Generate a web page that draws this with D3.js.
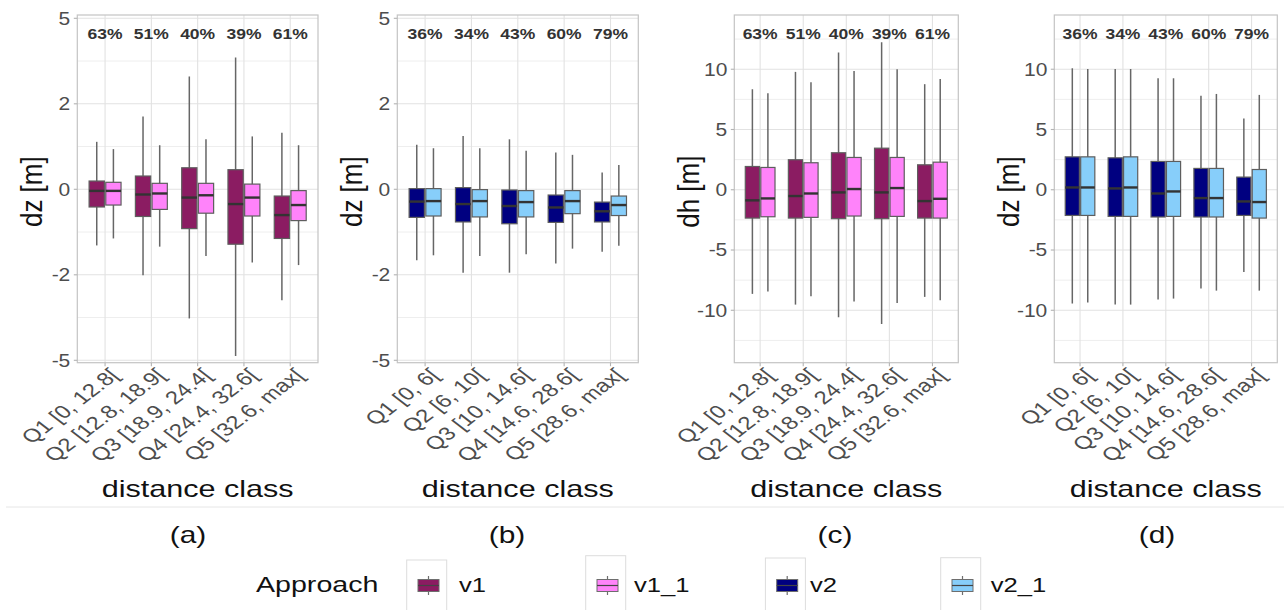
<!DOCTYPE html>
<html>
<head>
<meta charset="utf-8">
<script src="https://cdnjs.cloudflare.com/ajax/libs/d3/7.8.5/d3.min.js"></script>
<style>
  body { margin: 0; background: #fff; }
  text { font-family: "Liberation Sans", Arial, sans-serif; }
</style>
</head>
<body>
<svg id="chart" width="1284" height="610"></svg>
<script>
// ===== Data =====
// five-number stats per box: [whisker low, q1, median, q3, whisker high]
const catsA = ["Q1 [0, 12.8[", "Q2 [12.8, 18.9[", "Q3 [18.9, 24.4[", "Q4 [24.4, 32.6[", "Q5 [32.6, max["];
const catsB = ["Q1 [0, 6[", "Q2 [6, 10[", "Q3 [10, 14.6[", "Q4 [14.6, 28.6[", "Q5 [28.6, max["];
const pctA = ["63%", "51%", "40%", "39%", "61%"];
const pctB = ["36%", "34%", "43%", "60%", "79%"];

const dzV1 = [
  [-1.22, -0.35, -0.03, 0.16, 1.01],
  [-2.01, -0.55, -0.10, 0.26, 1.65],
  [-3.38, -0.82, -0.16, 0.43, 2.83],
  [-4.82, -1.19, -0.29, 0.39, 3.47],
  [-2.77, -1.05, -0.52, -0.13, 1.23]
];
const dzV1_1 = [
  [-1.05, -0.31, -0.03, 0.135, 0.84],
  [-1.25, -0.40, -0.08, 0.115, 0.93],
  [-1.49, -0.48, -0.115, 0.115, 1.07],
  [-1.66, -0.54, -0.16, 0.10, 1.14],
  [-1.73, -0.64, -0.31, -0.025, 0.93]
];
const dzV2 = [
  [-1.60, -0.57, -0.24, 0.013, 0.94],
  [-1.94, -0.67, -0.29, 0.032, 1.15],
  [-1.94, -0.71, -0.33, -0.013, 1.07],
  [-1.69, -0.68, -0.36, -0.11, 0.76],
  [-1.38, -0.67, -0.44, -0.25, 0.33]
];
const dzV2_1 = [
  [-1.47, -0.54, -0.23, 0.013, 0.86],
  [-1.49, -0.56, -0.23, -0.006, 0.86],
  [-1.44, -0.56, -0.25, -0.025, 0.80],
  [-1.30, -0.49, -0.23, -0.025, 0.71],
  [-1.23, -0.53, -0.31, -0.13, 0.49]
];
const dhV1 = [
  [-8.64, -2.35, -0.88, 1.93, 8.34],
  [-9.53, -2.35, -0.52, 2.49, 9.78],
  [-10.58, -2.40, -0.22, 3.07, 11.38],
  [-11.13, -2.40, -0.22, 3.45, 12.24],
  [-8.89, -2.35, -0.94, 2.07, 8.76]
];
const dhV1_1 = [
  [-8.45, -2.24, -0.72, 1.85, 8.01],
  [-8.84, -2.29, -0.31, 2.24, 8.92],
  [-9.28, -2.18, 0.06, 2.68, 9.86],
  [-9.39, -2.21, 0.14, 2.68, 10.0],
  [-9.17, -2.35, -0.75, 2.29, 9.2]
];
const dzdV2 = [
  [-9.44, -2.13, 0.19, 2.73, 10.08],
  [-9.53, -2.21, 0.11, 2.65, 10.02],
  [-9.11, -2.26, -0.31, 2.35, 9.25],
  [-8.2, -2.26, -0.69, 1.77, 7.81],
  [-6.82, -2.13, -0.97, 1.05, 5.91]
];
const dzdV2_1 = [
  [-9.36, -2.13, 0.19, 2.73, 10.02],
  [-9.53, -2.21, 0.19, 2.73, 10.02],
  [-9.03, -2.21, -0.14, 2.35, 9.25],
  [-8.37, -2.26, -0.69, 1.77, 7.95],
  [-8.37, -2.35, -1.02, 1.68, 7.87]
];

const ticksSmall = [-5, -2, 0, 2, 5];
const ticksLarge = [-10, -5, 0, 5, 10];
const minorLarge = [-12.5, -7.5, -2.5, 2.5, 7.5, 12.5];

const approaches = ["v1", "v1_1", "v2", "v2_1"];
const approachColor = d3.scaleOrdinal()
  .domain(approaches)
  .range(["#8B1C62", "#FF83FA", "#000080", "#87CEFA"]);

// ===== Layout =====
const TOP = 15, BOT = 362.7;

const svg = d3.select("#chart");

// text with sideways stretch (the source picture is widened)
function sText(parent, x, y, str, sx, rot){
  const g = parent.append("g")
    .attr("transform", `translate(${x},${y}) scale(${sx},1)` + (rot ? ` rotate(${rot})` : ""));
  return g.append("text").text(str);
}

const symY = () => d3.scaleSymlog().constant(4).domain([-5, 5]).range([360.3, 18.3]);
const linY = () => d3.scaleLinear().domain([-14.35, 14.5]).range([BOT, TOP]);

const panels = [
  { left: 77.3,   right: 318,    cats: catsA, pct: pctA, s1: dzV1,  s2: dzV1_1,  k1: "v1", k2: "v1_1",
    y: symY(), ticks: ticksSmall, title: "dz [m]", tag: "(a)", tagX: 188 },
  { left: 397.3,  right: 638.3,  cats: catsB, pct: pctB, s1: dzV2,  s2: dzV2_1,  k1: "v2", k2: "v2_1",
    y: symY(), ticks: ticksSmall, title: "dz [m]", tag: "(b)", tagX: 507 },
  { left: 734.3,  right: 958.3,  cats: catsA, pct: pctA, s1: dhV1,  s2: dhV1_1,  k1: "v1", k2: "v1_1",
    y: linY(), ticks: ticksLarge, minor: minorLarge, title: "dh [m]", tag: "(c)", tagX: 835 },
  { left: 1054.3, right: 1277.3, cats: catsB, pct: pctB, s1: dzdV2, s2: dzdV2_1, k1: "v2", k2: "v2_1",
    y: linY(), ticks: ticksLarge, minor: minorLarge, title: "dz [m]", tag: "(d)", tagX: 1157 }
];

panels.forEach(drawPanel);

function drawPanel(p){
  const g = svg.append("g");
  const x = d3.scalePoint().domain(p.cats).range([p.left, p.right]).padding(0.6);
  const y = p.y;
  const step = x.step();
  const w = step * 0.33, off = step * 0.18;

  // minor grid
  let minorPx;
  if (p.minor) minorPx = p.minor.map(v => y(v));
  else minorPx = d3.pairs(p.ticks).map(([a, b]) => (y(a) + y(b)) / 2);
  g.selectAll("line.minor").data(minorPx).join("line")
    .attr("x1", p.left).attr("x2", p.right)
    .attr("y1", d => d).attr("y2", d => d)
    .attr("stroke", "#eeeeee").attr("stroke-width", 1);

  // major grid
  g.selectAll("line.gy").data(p.ticks).join("line")
    .attr("x1", p.left).attr("x2", p.right)
    .attr("y1", d => y(d)).attr("y2", d => y(d))
    .attr("stroke", "#e2e2e2").attr("stroke-width", 1.1);
  g.selectAll("line.gx").data(p.cats).join("line")
    .attr("x1", d => x(d)).attr("x2", d => x(d))
    .attr("y1", TOP).attr("y2", BOT)
    .attr("stroke", "#e2e2e2").attr("stroke-width", 1.1);

  // boxes
  const series = [
    { key: p.k1, stats: p.s1, dx: -off },
    { key: p.k2, stats: p.s2, dx: off }
  ];
  series.forEach(s => {
    const bg = g.append("g");
    s.stats.forEach((st, i) => {
      const cx = x(p.cats[i]) + s.dx;
      const [lo, q1, med, q3, hi] = st;
      bg.append("line")
        .attr("x1", cx).attr("x2", cx).attr("y1", y(lo)).attr("y2", y(hi))
        .attr("stroke", "#666").attr("stroke-width", 1.5);
      bg.append("rect")
        .attr("x", cx - w / 2).attr("width", w)
        .attr("y", y(q3)).attr("height", y(q1) - y(q3))
        .attr("fill", approachColor(s.key))
        .attr("stroke", "#5e5e5e").attr("stroke-width", 1.2);
      bg.append("line")
        .attr("x1", cx - w / 2).attr("x2", cx + w / 2)
        .attr("y1", y(med)).attr("y2", y(med))
        .attr("stroke", "#333").attr("stroke-width", 2.4);
    });
  });

  // border
  g.append("rect")
    .attr("x", p.left).attr("y", TOP)
    .attr("width", p.right - p.left).attr("height", BOT - TOP)
    .attr("fill", "none").attr("stroke", "#c4c4c4").attr("stroke-width", 1.2);

  // percent labels
  p.pct.forEach((t, i) => {
    sText(g, x(p.cats[i]), 39, t, 1.25)
      .attr("text-anchor", "middle").attr("font-size", 14)
      .attr("font-weight", "bold").attr("fill", "#333");
  });

  // y axis ticks + labels
  p.ticks.forEach(v => {
    g.append("line").attr("x1", p.left - 3.5).attr("x2", p.left)
      .attr("y1", y(v)).attr("y2", y(v)).attr("stroke", "#b3b3b3").attr("stroke-width", 1.1);
    sText(g, p.left - 7, y(v) + 6.3, String(v), 1.2)
      .attr("text-anchor", "end").attr("font-size", 17.5).attr("fill", "#4d4d4d");
  });

  // x axis ticks + labels
  p.cats.forEach(c => {
    g.append("line").attr("x1", x(c)).attr("x2", x(c))
      .attr("y1", BOT).attr("y2", BOT + 3.5).attr("stroke", "#b3b3b3").attr("stroke-width", 1.1);
    sText(g, x(c) + 3, 367, c, 1.3, -45)
      .attr("text-anchor", "end").attr("dy", "0.72em")
      .attr("font-size", 18.5).attr("fill", "#4d4d4d");
  });

  // titles
  sText(g, p.left - 45.6, 191.7, p.title, 1.15, -90)
    .attr("text-anchor", "middle").attr("dy", "0.35em")
    .attr("font-size", 26).attr("fill", "#111");
  sText(g, (p.left + p.right) / 2, 497, "distance class", 1.33)
    .attr("text-anchor", "middle").attr("font-size", 23).attr("fill", "#111");
  sText(g, p.tagX, 543, p.tag, 1.3)
    .attr("text-anchor", "middle").attr("font-size", 23).attr("fill", "#111");
}

// separator line
svg.append("line").attr("x1", 6).attr("x2", 1284).attr("y1", 507).attr("y2", 507)
  .attr("stroke", "#e6e6e6").attr("stroke-width", 1);

// ===== Legend =====
const legendFrameX = [406.7, 585.7, 765.4, 940.7];
const legendFrameTop = [560, 555.7, 558, 557.7];
const legendTextX = [459, 634, 810, 990.7];
const lg = svg.append("g");
sText(lg, 256, 592, "Approach", 1.3).attr("font-size", 22).attr("fill", "#111");
approaches.forEach((k, i) => {
  const fx = legendFrameX[i];
  lg.append("rect").attr("x", fx).attr("y", legendFrameTop[i])
    .attr("width", 40).attr("height", 80)
    .attr("fill", "none").attr("stroke", "#dddddd").attr("stroke-width", 1);
  const cx = fx + 21.8, cy = 585.5;
  lg.append("line").attr("x1", cx).attr("x2", cx).attr("y1", cy - 9.5).attr("y2", cy + 9.5)
    .attr("stroke", "#6e6e6e").attr("stroke-width", 1.2);
  lg.append("rect").attr("x", cx - 10.5).attr("y", cy - 6).attr("width", 21).attr("height", 12)
    .attr("fill", approachColor(k)).attr("stroke", "#6e6e6e").attr("stroke-width", 1);
  lg.append("line").attr("x1", cx - 10.5).attr("x2", cx + 10.5).attr("y1", cy).attr("y2", cy)
    .attr("stroke", "#444").attr("stroke-width", 1.2);
  sText(lg, legendTextX[i], 591.7, k, 1.22).attr("font-size", 21).attr("fill", "#111");
});
</script>
</body>
</html>
